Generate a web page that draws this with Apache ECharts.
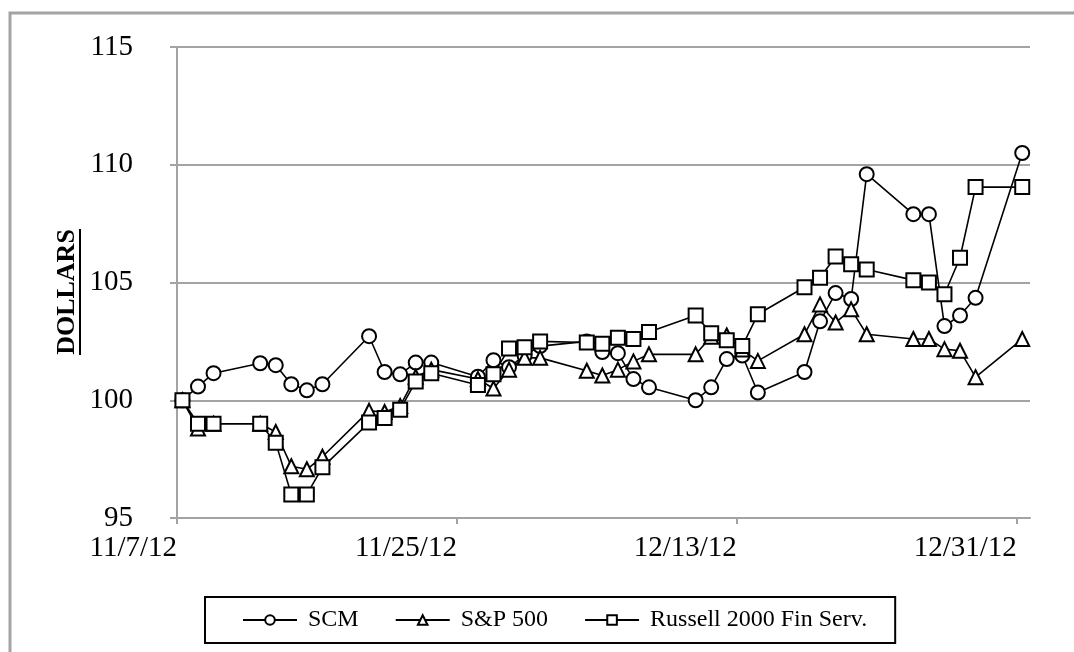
<!DOCTYPE html>
<html>
<head>
<meta charset="utf-8">
<script src="https://cdn.jsdelivr.net/npm/echarts@6/dist/echarts.min.js"></script>
<style>
html,body{margin:0;padding:0;background:#fff;}
#chart{width:1074px;height:652px;}
</style>
</head>
<body>
<div id="chart"></div>
<script>
const DAY = 86400000;
const dates = [
  '2012-11-07','2012-11-08','2012-11-09','2012-11-12','2012-11-13','2012-11-14','2012-11-15','2012-11-16',
  '2012-11-19','2012-11-20','2012-11-21','2012-11-22','2012-11-23',
  '2012-11-26','2012-11-27','2012-11-28','2012-11-29','2012-11-30',
  '2012-12-03','2012-12-04','2012-12-05','2012-12-06','2012-12-07',
  '2012-12-10','2012-12-11','2012-12-12','2012-12-13','2012-12-14',
  '2012-12-17','2012-12-18','2012-12-19','2012-12-20','2012-12-21',
  '2012-12-24','2012-12-25','2012-12-26','2012-12-27','2012-12-28','2012-12-31'
];
const scm = [
  100, 100.58, 101.15, 101.57, 101.49, 100.68, 100.42, 100.68,
  102.72, 101.2, 101.1, 101.6, 101.6,
  101.0, 101.7, 101.4, 101.9, 102.3,
  102.5, 102.05, 102.0, 100.9, 100.55,
  100.0, 100.55, 101.75, 101.9, 100.33,
  101.2, 103.35, 104.55, 104.3, 109.6,
  107.9, 107.9, 103.15, 103.6, 104.35, 110.5
];
const sp500 = [
  100, 98.8, 99.0, 99.0, 98.65, 97.2, 97.07, 97.6,
  99.55, 99.5, 99.76, 101.0, 101.3,
  100.9, 100.5, 101.3, 101.8, 101.8,
  101.25, 101.05, 101.3, 101.65, 101.95,
  101.95, 102.7, 102.75, 102.15, 101.67,
  102.8, 104.07, 103.3, 103.86, 102.8,
  102.6, 102.6, 102.17, 102.1, 100.98, 102.6
];
const russell = [
  100, 99.0, 99.0, 99.0, 98.2, 96.0, 96.0, 97.15,
  99.05, 99.25, 99.6, 100.8, 101.15,
  100.65, 101.1, 102.2, 102.25, 102.5,
  102.45, 102.4, 102.65, 102.6, 102.9,
  103.6, 102.85, 102.55, 102.3, 103.65,
  104.8, 105.2, 106.1, 105.77, 105.55,
  105.1, 105.0, 104.5, 106.05, 109.05, 109.05
];
const seriesNames = ['SCM', 'S&P 500', 'Russell 2000 Fin Serv.'];
const xTickLabels = ['11/7/12', '11/25/12', '12/13/12', '12/31/12'];
const yTicks = [95, 100, 105, 110, 115];

const FONT = 'Liberation Serif';
const GRAY = '#a3a3a3';
const xStep = 18 * DAY;
// Excel date axis: ticks at day boundaries, points sit inside the day cell
const xMin = Date.parse(dates[0]) - 0.35 * DAY;
const xMax = xMin + 54.85 * DAY;
const xTickValues = xTickLabels.map((_, i) => xMin + i * xStep);

function toPairs(vals) { return dates.map((d, i) => [Date.parse(d), vals[i]]); }

const symbols = ['emptyCircle', 'emptyTriangle', 'emptyRect'];
const allVals = [scm, sp500, russell];

const chart = echarts.init(document.getElementById('chart'), null, {renderer: 'canvas'});
chart.setOption({
  animation: false,
  backgroundColor: '#fff',
  textStyle: {fontFamily: FONT},
  grid: {left: 177, right: 44, top: 47, bottom: 134},
  xAxis: {
    type: 'value',
    min: xMin,
    max: xMax,
    axisLine: {show: true, lineStyle: {color: GRAY, width: 2}},
    axisTick: {show: true, inside: false, length: 6, customValues: xTickValues, lineStyle: {color: GRAY, width: 2}},
    axisLabel: {
      customValues: xTickValues,
      formatter: v => xTickLabels[Math.round((v - xMin) / xStep)] || '',
      fontFamily: FONT, fontSize: 29, color: '#000', margin: 16, align: 'right'
    },
    splitLine: {show: false}
  },
  yAxis: {
    type: 'value',
    min: yTicks[0],
    max: yTicks[yTicks.length - 1],
    interval: yTicks[1] - yTicks[0],
    axisLine: {show: true, lineStyle: {color: GRAY, width: 2}},
    axisTick: {show: true, inside: false, length: 7, lineStyle: {color: GRAY, width: 2}},
    axisLabel: {fontFamily: FONT, fontSize: 29, color: '#000', margin: 44},
    splitLine: {show: true, lineStyle: {color: GRAY, width: 2}}
  },
  legend: {
    left: 205,
    top: 597,
    orient: 'horizontal',
    padding: [11, 28, 11, 37],
    itemGap: 36,
    itemWidth: 54,
    itemHeight: 12,
    borderColor: '#000',
    borderWidth: 2,
    textStyle: {fontFamily: FONT, fontSize: 24, color: '#000', padding: [0, 0, 0, 6]},
    data: seriesNames
  },
  series: seriesNames.map((name, k) => ({
    name: name,
    type: 'line',
    data: toPairs(allVals[k]),
    symbol: symbols[k],
    symbolSize: 14,
    showSymbol: true,
    lineStyle: {color: '#000', width: 1.6},
    itemStyle: {color: '#000', borderColor: '#000', borderWidth: 1.6},
    emphasis: {disabled: true}
  })),
  graphic: [
    {
      type: 'rect',
      shape: {x: 10, y: 13, width: 1200, height: 900},
      style: {fill: null, stroke: GRAY, lineWidth: 3},
      silent: true
    },
    {
      type: 'group',
      x: 67, y: 292,
      rotation: Math.PI / 2,
      children: [
        {type: 'text', style: {text: 'DOLLARS', font: 'bold 26px ' + FONT, fill: '#000', align: 'center', verticalAlign: 'middle'}},
        {type: 'line', shape: {x1: -63, y1: 13, x2: 63, y2: 13}, style: {stroke: '#000', lineWidth: 2}}
      ]
    }
  ]
});
</script>
</body>
</html>
